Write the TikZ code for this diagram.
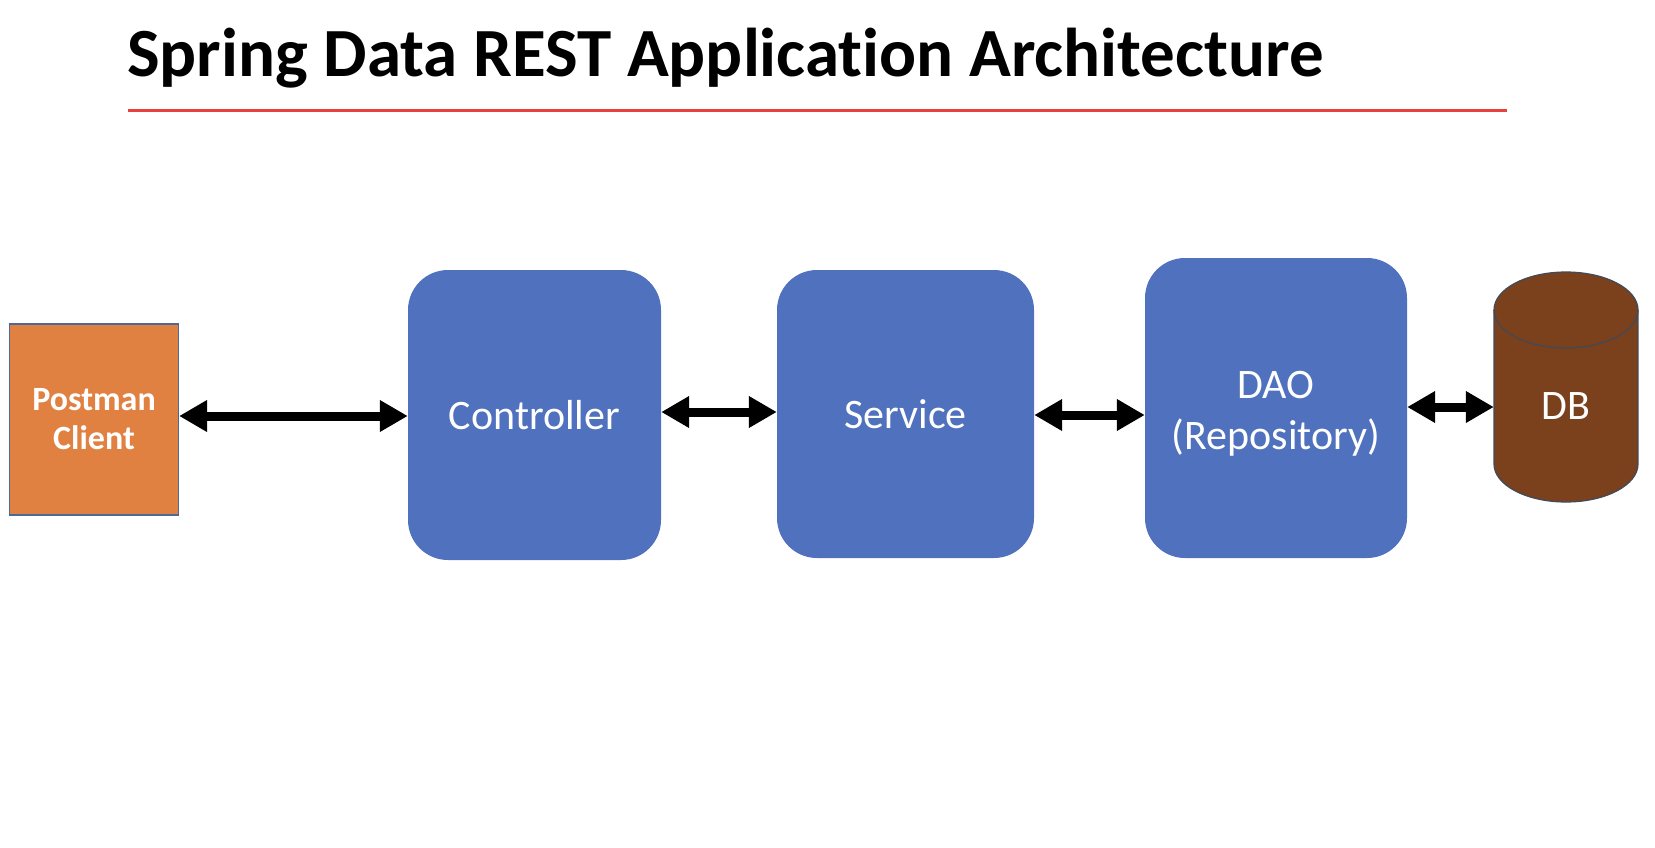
\documentclass[tikz,border=0pt]{standalone}
\usepackage{fontspec}
\setmainfont{Carlito}[Ligatures=NoCommon]
\usetikzlibrary{arrows.meta}
\definecolor{postorange}{HTML}{E08142}
\definecolor{postedge}{HTML}{4A6A9A}
\definecolor{layerblue}{HTML}{4F71BE}
\definecolor{dbbrown}{HTML}{7B401C}
\definecolor{dbedge}{HTML}{3F4A5A}
\definecolor{titlered}{HTML}{E8413C}
\tikzset{
  layerbox/.style={rectangle, rounded corners=40pt, fill=layerblue, text=white, align=center, font=\fontsize{42}{51}\selectfont, inner sep=0pt},
  layertext/.style={text=white, align=center, font=\fontsize{42}{51}\selectfont, inner sep=0pt},
  clientbox/.style={rectangle, fill=postorange, draw=postedge, line width=1.2pt, text=white, align=center, font=\bfseries\fontsize{34}{39}\selectfont, inner sep=0pt},
  biarrow/.style={line width=9pt, {Triangle[length=28pt,width=30pt]}-{Triangle[length=28pt,width=30pt]}},
}
\begin{document}
\begin{tikzpicture}[x=1pt,y=-1pt]
\useasboundingbox[fill=white] (0,0) rectangle (1655,847);
% title
\node[anchor=base west, inner sep=0pt, font=\bfseries\fontsize{69}{80}\selectfont] (title) at (127,76) {Spring Data REST Application Architecture};
\coordinate (rulel) at (128,110);
\coordinate (ruler) at (1507,110);
\draw[titlered, line width=3pt] (rulel) -- (ruler);
% boxes
\node[clientbox, minimum width=169pt, minimum height=191pt] (post) at (94,419.5) {Postman\\Client};
\node[layerbox, minimum width=253pt, minimum height=290pt] (ctrl) at (534.5,415) {Controller};
\node[layerbox, minimum width=257pt, minimum height=288pt] (serv) at (905.5,414) {Service};
\node[layerbox, minimum width=262pt, minimum height=300pt] (dao) at (1276,408) {};
\node[layertext] (daotext) at (1276,414) {DAO\\(Repository)};
% DB cylinder
\fill[dbbrown] (1494,310) rectangle (1638,464);
\fill[dbbrown] (1566,464) ellipse [x radius=72, y radius=38];
\fill[dbbrown] (1566,310) ellipse [x radius=72, y radius=38];
\draw[dbedge, line width=1.2pt] (1494,310) -- (1494,464) arc[start angle=180, end angle=0, x radius=72, y radius=38] -- (1638,310);
\draw[dbedge, line width=1.2pt] (1566,310) ellipse [x radius=72, y radius=38];
\node[inner sep=0pt, minimum width=144pt, minimum height=154pt, text=white, font=\fontsize{42}{51}\selectfont] (db) at (1566,406) {DB};
% connectors
\draw[biarrow] ([yshift=3.5pt]post.east) -- ([yshift=3.5pt]post.east -| ctrl.west);
\draw[biarrow] ([yshift=3pt]ctrl.east) -- ([yshift=3pt]ctrl.east -| serv.west);
\draw[biarrow] ([yshift=-1pt]serv.east) -- ([yshift=-1pt]serv.east -| dao.west);
\draw[biarrow] ([yshift=1pt]dao.east) -- ([yshift=1pt]dao.east -| db.west);
\end{tikzpicture}
\end{document}
